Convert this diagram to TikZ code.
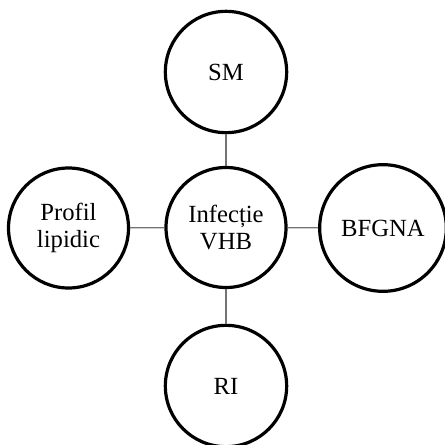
\documentclass[tikz,border=0pt]{standalone}
\usepackage{fontspec}
\setmainfont{Liberation Serif}
\begin{document}
\begin{tikzpicture}[x=0.75pt,y=-0.75pt,
  bub/.style={circle,draw=black,line width=2.4pt,fill=white,inner sep=0pt,
    align=center,font=\fontsize{18.5pt}{20.5pt}\selectfont},
  link/.style={draw=black!55,line width=1pt}]
\useasboundingbox (0,0) rectangle (445,445);
\node[bub,minimum size=90pt] (c) at (226,227.5) {Infecție\\VHB};
\node[bub,minimum size=91pt] (sm) at (226,72) {SM};
\node[bub,minimum size=90pt] (pl) at (68.5,228) {Profil\\lipidic};
\node[bub,minimum size=95pt] (bf) at (383,228) {BFGNA};
\node[bub,minimum size=91pt] (ri) at (226,386) {RI};
\draw[link] (c) -- (sm);
\draw[link] (c) -- (pl);
\draw[link] (c) -- (bf);
\draw[link] (c) -- (ri);
\end{tikzpicture}
\end{document}
